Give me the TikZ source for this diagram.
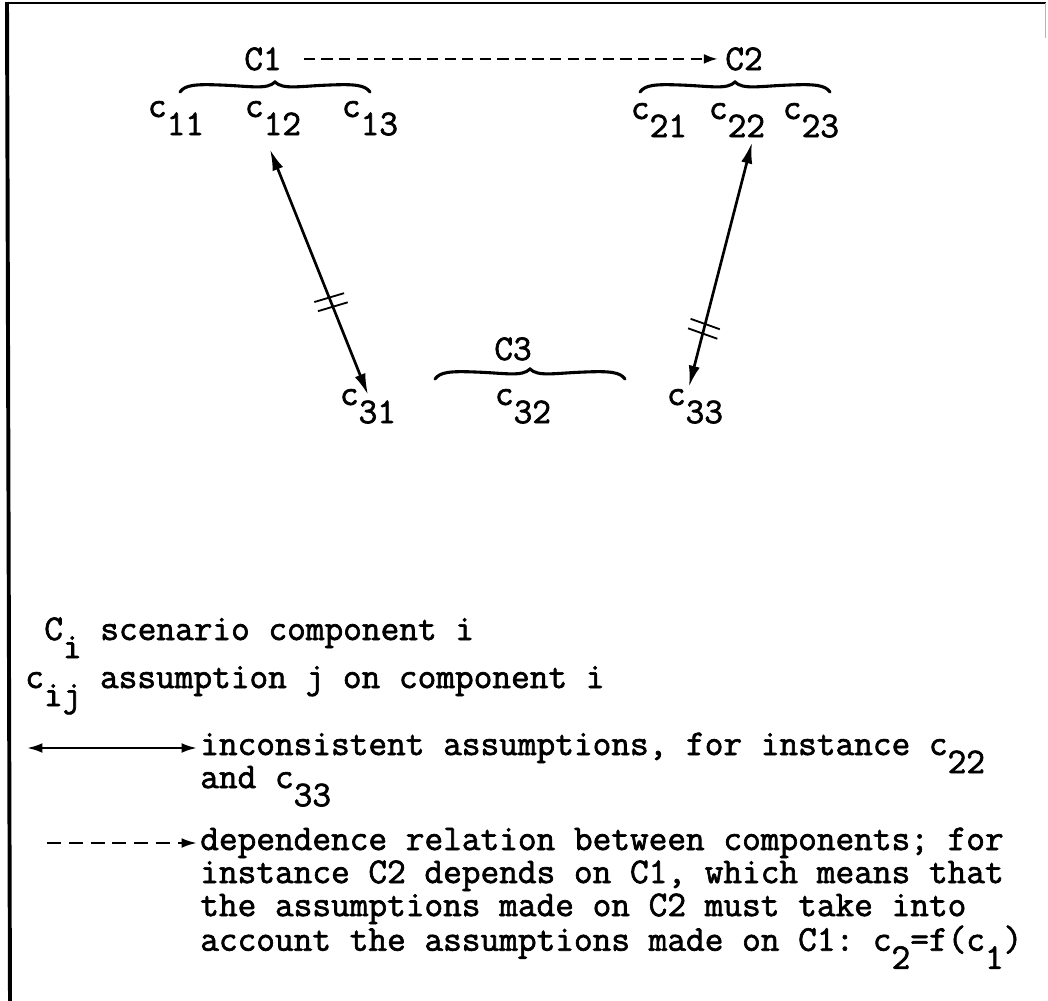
\documentclass[tikz,border=0pt]{standalone}
\usepackage{fontspec}
\setmainfont{Latin Modern Mono}[FakeBold=1.8]
\usetikzlibrary{arrows.meta,calc,decorations.markings}
\frenchspacing

% typed subscripts: half a line down
\newcommand{\idx}[1]{\raisebox{-0.5em}{#1}}
\newcommand{\idxs}[1]{\raisebox{-0.5em}[0pt][0pt]{#1}}

\begin{document}
\begin{tikzpicture}[x=0.025cm, y=-0.025cm,
    every node/.style={font=\fontsize{25.8pt}{23.5pt}\selectfont, inner sep=0pt},
    lbl/.style={anchor=base},
    keytext/.style={anchor=base west},
    incons/.style={line width=1.9pt, {Latex[length=15pt,width=8pt]}-{Latex[length=15pt,width=8pt]}},
    depend/.style={line width=1.9pt, dash pattern=on 8pt off 4.5pt, -{Latex[length=10pt,width=7pt]}},
    grpbrace/.pic={\draw[line width=2.2pt, line cap=round]
        (-95,5) .. controls (-90,-2) and (-80,-3) .. (-55,-2)
        .. controls (-25,-1) and (-8,3) .. (0,-5)
        .. controls (8,3) and (25,-1) .. (55,-2)
        .. controls (80,-3) and (90,-2) .. (95,5);},
    clash/.style={postaction={decorate}, decoration={markings, mark=at position #1 with
        {\draw[-, line width=1.3pt] (-4pt,-11pt) -- (-2pt,11pt) (3pt,-11pt) -- (5pt,11pt);}}}]
    \useasboundingbox (0,0) rectangle (1048,1001);
    % frame
    \draw[line width=2.8pt] (7,2) -- (10,1001);
    \draw[line width=1.2pt] (5,3) -- (1046,3);
    \draw[gray!60, line width=0.6pt] (1045,3) -- (1045,38);

    % components and assumptions
    \node[lbl] (C1) at (263,70) {C1};
    \node[lbl] (C2) at (744,70) {C2};
    \node[lbl] (C3) at (513,360) {C3};
    \node[lbl] (c11) at (176,117) {c\idx{11}};
    \node[lbl] (c12) at (273,117) {c\idx{12}};
    \node[lbl] (c13) at (370,117) {c\idx{13}};
    \node[lbl] (c21) at (659,119) {c\idx{21}};
    \node[lbl] (c22) at (737,119) {c\idx{22}};
    \node[lbl] (c23) at (811,119) {c\idx{23}};
    \node[lbl] (c31) at (368,405) {c\idx{31}};
    \node[lbl] (c32) at (523,405) {c\idx{32}};
    \node[lbl] (c33) at (695,405) {c\idx{33}};

    \pic at ($(c12.base)+(2,-30)$) {grpbrace};
    \pic at ($(c22.base)+(-2,-32)$) {grpbrace};
    \pic at ($(c32.base)+(7,-31)$) {grpbrace};

    \draw[depend, shorten <=15.6pt, shorten >=5pt] (C1) -- (C2);
    \draw[incons, clash=0.62] ($(c12.south)+(-3,14)$) -- ($(c31.north)+(0,6)$);
    \draw[incons, clash=0.76] ($(c22.south)+(15,5)$) -- ($(c33.north)+(-6,-2)$);

    % key
    \node[keytext] (keyC) at (44,640) {C\idxs{i} scenario component i};
    \node[keytext] (keyc) at (25,688) {c\idxs{ij} assumption j on component i};
    \coordinate (inc1) at (27,748);
    \coordinate (inc2) at (197,748);
    \draw[line width=1.7pt, {Latex[length=11pt,width=7pt]}-{Latex[length=11pt,width=7pt]}] (inc1) -- (inc2);
    \node[keytext] (keyinc) at (200,755) {\parbox[t]{27em}{inconsistent assumptions, for instance c\idxs{22}\\and c\idxs{33}}};
    \coordinate (dep1) at (47,843);
    \coordinate (dep2) at (197,843);
    \draw[line width=1.7pt, dash pattern=on 10pt off 5.5pt, -{Latex[length=11pt,width=7pt]}] (dep1) -- (dep2);
    \node[keytext] (keydep) at (200,850) {\parbox[t]{27em}{dependence relation between components; for\\instance C2 depends on C1, which means that\\the assumptions made on C2 must take into\\account the assumptions made on C1: c\idxs{2}=f(c\idxs{1})}};
\end{tikzpicture}
\end{document}
